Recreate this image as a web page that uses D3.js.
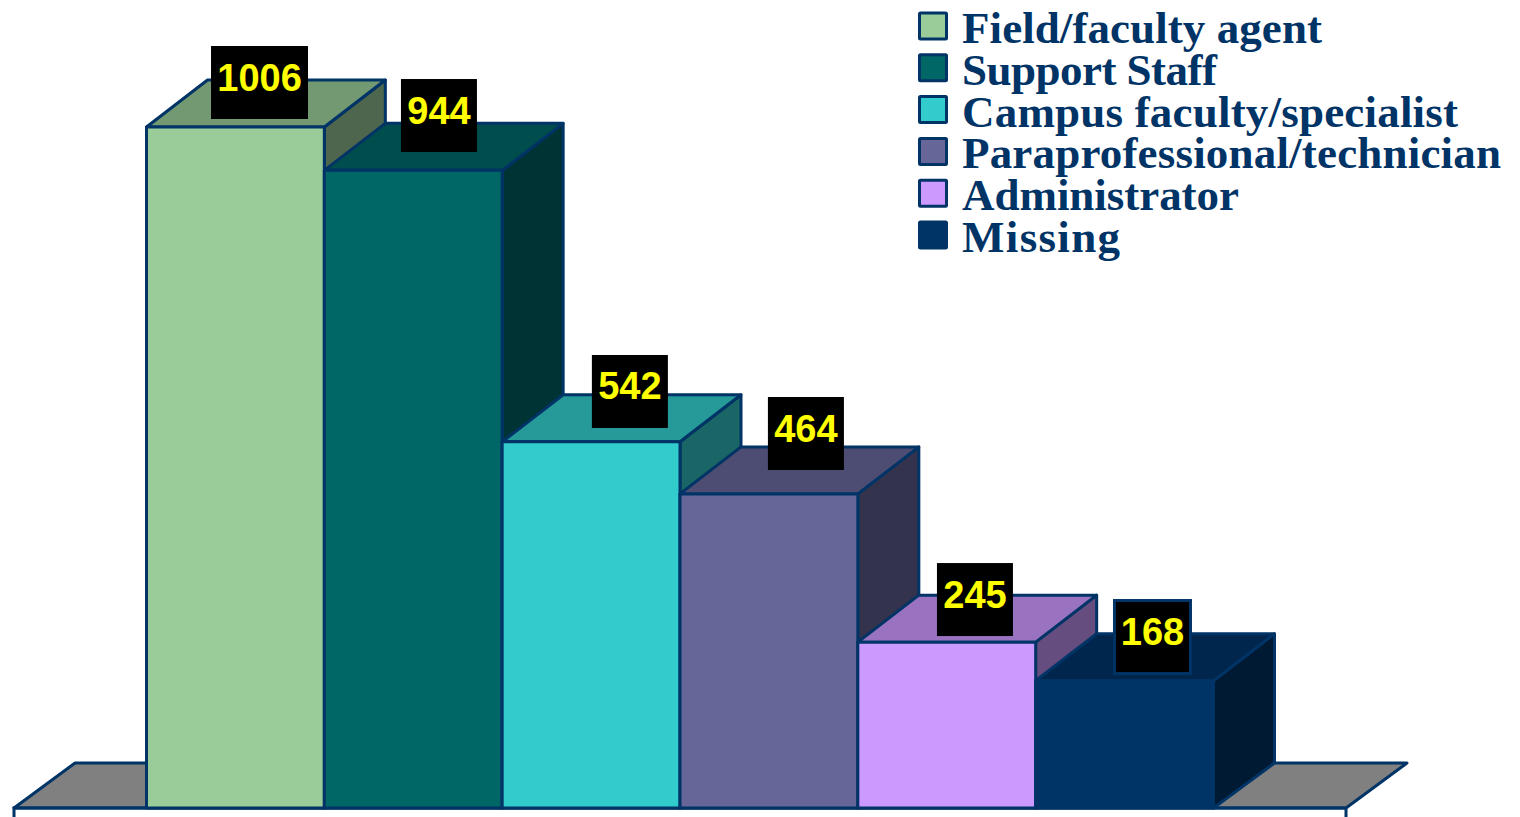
<!DOCTYPE html>
<html>
<head>
<meta charset="utf-8">
<script src="https://cdn.jsdelivr.net/npm/d3@7"></script>
<style>
  html, body { margin: 0; background: #fff; overflow: hidden; }
</style>
</head>
<body>
<div id="myChart"></div>
<script>
var categories = ["Field/faculty agent", "Support Staff", "Campus faculty/specialist", "Paraprofessional/technician", "Administrator", "Missing"];
// printed numbers on the black tags
var values = [1006, 944, 542, 464, 245, 168];
// heights as drawn in the picture, the last column stands taller than its label says
var drawnValues = [1006, 942, 541, 464, 245, 188];
var colors = ["#99cc99", "#006666", "#33cccc", "#666699", "#cc99ff", "#003366"];

var width = 1520, height = 817,
    baseY = 808, topY = 127,
    depthX = 61, depthY = 47, floorDepth = 45,
    navy = "#003366";

var svg = d3.select("#myChart")
    .append("svg")
      .attr("width", width)
      .attr("height", height)
      .style("display", "block");

var x = d3.scaleBand()
    .domain(categories)
    .range([146.5, 1213.5]);

var y = d3.scaleLinear()
    .domain([0, 1006])
    .range([baseY, topY]);

var poly = function(pts) { return pts.map(function(p) { return p.join(","); }).join(" "); };

// floor
var floorLeft = x.range()[0] - 132.5, floorRight = x.range()[1] + 132.5;
svg.append("polygon")
    .attr("points", poly([[floorLeft, baseY], [floorLeft + depthX, baseY - floorDepth], [floorRight + depthX, baseY - floorDepth], [floorRight, baseY]]))
    .attr("fill", "#808080")
    .attr("stroke", navy)
    .attr("stroke-width", 3)
    .attr("stroke-linejoin", "round");

// front edge of the floor, with its two short drops
svg.append("path")
    .attr("d", "M" + floorLeft + "," + height + "V" + baseY + "H" + floorRight + "V" + height)
    .attr("fill", "none")
    .attr("stroke", navy)
    .attr("stroke-width", 3);

// columns, left to right so each one hides the foot of the previous side wall
var bars = svg.selectAll("g.bar")
    .data(categories)
    .enter()
    .append("g")
      .attr("class", "bar");

function shade(c, k) {
    var r = d3.rgb(c);
    return d3.rgb(r.r * k, r.g * k, r.b * k).formatHex();
}

bars.append("polygon") // side
    .attr("points", function(d, i) {
        var x1 = x(d) + x.bandwidth(), t = y(drawnValues[i]);
        return poly([[x1, t], [x1 + depthX, t - depthY], [x1 + depthX, baseY - floorDepth], [x1, baseY]]);
    })
    .attr("fill", function(d, i) { return shade(colors[i], 0.5); });

bars.append("polygon") // top
    .attr("points", function(d, i) {
        var x0 = x(d), x1 = x0 + x.bandwidth(), t = y(drawnValues[i]);
        return poly([[x0, t], [x0 + depthX, t - depthY], [x1 + depthX, t - depthY], [x1, t]]);
    })
    .attr("fill", function(d, i) { return shade(colors[i], 0.75); });

bars.append("rect") // front
    .attr("x", function(d) { return x(d); })
    .attr("y", function(d, i) { return y(drawnValues[i]); })
    .attr("width", x.bandwidth())
    .attr("height", function(d, i) { return baseY - y(drawnValues[i]); })
    .attr("fill", function(d, i) { return colors[i]; });

bars.selectAll("polygon, rect")
    .attr("stroke", navy)
    .attr("stroke-width", 3)
    .attr("stroke-linejoin", "round");

// value tags sit by hand around each column top in the original
var tagNudge = [[24.1, -44.5], [25.7, -54.8], [38.8, -50.3], [37, -60.4], [28.2, -42.6], [27.9, -43.7]];

var tags = svg.selectAll("g.tag")
    .data(categories)
    .enter()
    .append("g")
      .attr("class", "tag")
      .attr("transform", function(d, i) {
          return "translate(" + (x(d) + x.bandwidth() / 2 + tagNudge[i][0]) + "," + (y(drawnValues[i]) + tagNudge[i][1]) + ")";
      });

tags.append("rect")
    .attr("x", function(d, i) { return i == 0 ? -48.5 : -38; })
    .attr("y", -36.5)
    .attr("width", function(d, i) { return i == 0 ? 97 : 76; })
    .attr("height", 73)
    .attr("fill", "#000")
    .attr("stroke", function(d, i) { return i == 5 ? navy : "none"; })
    .attr("stroke-width", 3);

tags.append("text")
    .attr("y", 8)
    .attr("text-anchor", "middle")
    .attr("font-family", "'Liberation Sans', Arial, sans-serif")
    .attr("font-weight", "bold")
    .attr("font-size", "38px")
    .attr("fill", "#ffff00")
    .text(function(d, i) { return values[i]; });

// legend
var legendY = d3.scalePoint()
    .domain(categories)
    .range([26, 235]);

// the original's loose letter spacing, stretched to the measured run of each entry
var legendTextWidth = [360, 255, 496, 539, 277, 158];

var legend = svg.selectAll("g.legend")
    .data(categories)
    .enter()
    .append("g")
      .attr("class", "legend")
      .attr("transform", function(d) { return "translate(918," + legendY(d) + ")"; });

legend.append("rect")
    .attr("x", 1.5)
    .attr("y", -13)
    .attr("width", 27)
    .attr("height", 26)
    .attr("rx", 1)
    .attr("fill", function(d, i) { return colors[i]; })
    .attr("stroke", navy)
    .attr("stroke-width", 3);

legend.append("text")
    .attr("x", 44)
    .attr("y", 17)
    .attr("font-family", "'Liberation Serif', 'Times New Roman', serif")
    .attr("font-weight", "bold")
    .attr("font-size", "45px")
    .attr("fill", navy)
    .attr("textLength", function(d, i) { return legendTextWidth[i]; })
    .attr("lengthAdjust", "spacing")
    .text(function(d) { return d; });
</script>
</body>
</html>
